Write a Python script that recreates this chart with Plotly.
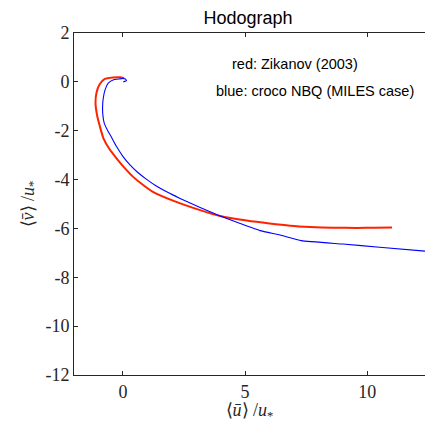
import plotly.graph_objects as go

# Zikanov (2003) hodograph (red)
red_u = [0.05, -0.12, -0.4, -0.74, -0.95, -1.08, -1.12, -1.05, -0.94, -0.8, -0.55, -0.26, 0.05, 0.41, 0.8, 1.23, 2.05, 3.16, 3.98, 5.07, 6.0, 6.84, 7.66, 8.6, 9.58, 10.3, 11.01]
red_v = [0.15, 0.19, 0.18, 0.12, -0.1, -0.45, -0.86, -1.4, -1.83, -2.3, -2.75, -3.13, -3.5, -3.88, -4.2, -4.5, -4.86, -5.25, -5.49, -5.68, -5.8, -5.89, -5.94, -5.97, -5.98, -5.97, -5.96]

# croco NBQ (MILES case) hodograph (blue)
blue_u = [0.02, 0.15, 0.1, 0.01, -0.15, -0.4, -0.6, -0.72, -0.8, -0.83, -0.82, -0.76, -0.62, -0.45, -0.26, 0.0, 0.29, 0.6, 0.97, 1.35, 1.79, 2.34, 3.16, 3.98, 4.8, 5.61, 6.43, 7.3, 9.0, 10.5, 12.5]
blue_v = [0.0, 0.05, 0.12, 0.14, 0.12, 0.08, -0.05, -0.3, -0.65, -1.0, -1.35, -1.7, -2.0, -2.3, -2.65, -3.05, -3.4, -3.7, -3.99, -4.25, -4.5, -4.77, -5.14, -5.49, -5.8, -6.09, -6.27, -6.5, -6.64, -6.77, -6.94]

x_ticks = [0, 5, 10]
x_ticktext = ["0", "5", "10"]
y_ticks = [-12, -10, -8, -6, -4, -2, 0, 2]
y_ticktext = ["-12", "-10", "-8", "-6", "-4", "-2", "0", "2"]

L, T, B = 74, 33, 48
W, H = 425, 423
pw, ph = W - L, H - T - B


def px_to_paper(px, py):
    return (px - L) / pw, 1 - (py - T) / ph


fig = go.Figure()
fig.add_trace(go.Scatter(x=red_u, y=red_v, mode="lines",
                         line=dict(color="#ff2200", width=2, shape="spline", smoothing=0.6),
                         showlegend=False))
fig.add_trace(go.Scatter(x=blue_u, y=blue_v, mode="lines",
                         line=dict(color="#0000ff", width=1.1, shape="spline", smoothing=0.4),
                         showlegend=False))

axis_color = "#262626"
serif = "Liberation Serif"
tickfont = dict(family=serif, size=18, color=axis_color)

ax1 = px_to_paper(295, 64)
ax2 = px_to_paper(315, 91)

fig.update_layout(
    width=W, height=H,
    margin=dict(l=L, r=0, t=T, b=B, autoexpand=False),
    paper_bgcolor="white", plot_bgcolor="white",
    title=dict(text="Hodograph", x=248 / W, xanchor="center", y=1 - 18 / H, yanchor="middle",
               font=dict(family="Liberation Sans", size=18, color="black")),
    xaxis=dict(range=[-2, 12.36], tickvals=x_ticks, ticktext=x_ticktext,
               ticks="inside", ticklen=4, tickcolor=axis_color, showgrid=False,
               zeroline=False, showline=True, linecolor=axis_color, linewidth=1,
               mirror="ticks", tickfont=tickfont,
               title=dict(text="⟨<i>ū</i>⟩ /<i>u</i><sub>*</sub>", standoff=4,
                          font=dict(family=serif, size=18, color=axis_color))),
    yaxis=dict(range=[-12, 2], tickvals=y_ticks, ticktext=y_ticktext,
               ticks="inside", ticklen=4, tickcolor=axis_color, showgrid=False,
               zeroline=False, showline=True, linecolor=axis_color, linewidth=1,
               tickfont=tickfont,
               title=dict(text="⟨<i>v̄</i>⟩ /<i>u</i><sub>*</sub>", standoff=6,
                          font=dict(family=serif, size=18, color=axis_color))),
    annotations=[
        dict(x=ax1[0], y=ax1[1], xref="paper", yref="paper", text="red: Zikanov (2003)",
             showarrow=False, xanchor="center", yanchor="middle",
             font=dict(family="Liberation Sans", size=14.5, color="black")),
        dict(x=ax2[0], y=ax2[1], xref="paper", yref="paper", text="blue: croco NBQ (MILES case)",
             showarrow=False, xanchor="center", yanchor="middle",
             font=dict(family="Liberation Sans", size=14.5, color="black")),
    ],
)

fig.write_html("out.html")
